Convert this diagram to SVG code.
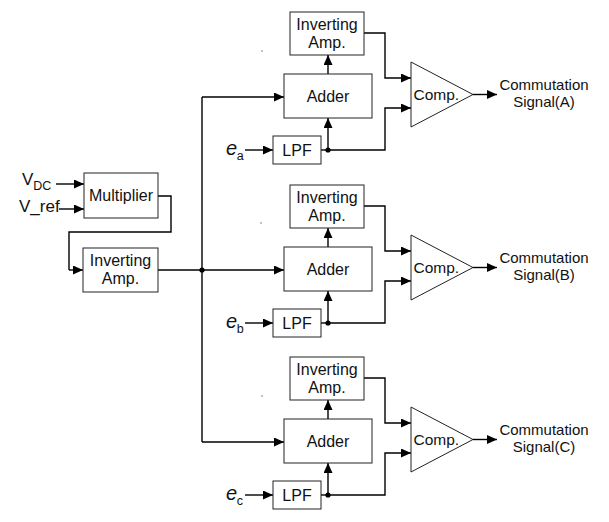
<svg xmlns="http://www.w3.org/2000/svg" width="609" height="522" viewBox="0 0 609 522">
<style>
.box{fill:#fff;stroke:#222;stroke-width:1}
.t{font-family:"Liberation Sans",Arial,sans-serif;font-size:16px;fill:#111;text-anchor:middle}
.o{font-family:"Liberation Sans",Arial,sans-serif;font-size:15px;fill:#111;text-anchor:middle}
.ts{font-family:"Liberation Sans",Arial,sans-serif;fill:#111}
.w{fill:none;stroke:#000;stroke-width:1.4}
.wa{fill:none;stroke:#000;stroke-width:1.4;marker-end:url(#ah)}
.dot{fill:#000}
.spk{fill:#777}
</style>
<defs>
<marker id="ah" markerUnits="userSpaceOnUse" markerWidth="10" markerHeight="9" refX="10" refY="4.5" orient="auto">
<path d="M0,0 L10,4.5 L0,9 z" fill="#000"/>
</marker>
</defs>
<rect width="609" height="522" fill="#fff"/>

<g id="connectors">
<path class="wa" d="M56,184 H84"/>
<path class="wa" d="M59,209 H84"/>
<path class="w" d="M158,196 H171 V232 H69 V270"/>
<path class="wa" d="M69,270 H83"/>
<path class="wa" d="M158,270 H284"/>
<path class="w" d="M202,97 V442"/>
<path class="wa" d="M202,97 H284"/>
<path class="wa" d="M202,442 H284"/>
<circle class="dot" cx="202" cy="270" r="2.6"/>

<path class="wa" d="M328,74 V55"/>
<path class="wa" d="M245,150 H273"/>
<path class="w" d="M321,150 H328"/>
<path class="wa" d="M328,150 V118"/>
<path class="wa" d="M328,150 H385 V108 H411"/>
<path class="wa" d="M364,33 H385 V78 H411"/>
<path class="wa" d="M473,94.5 H497"/>
<circle class="dot" cx="328" cy="150" r="2.6"/>

<path class="wa" d="M328,247 V228"/>
<path class="wa" d="M245,323 H273"/>
<path class="w" d="M321,323 H328"/>
<path class="wa" d="M328,323 V291"/>
<path class="wa" d="M328,323 H385 V281 H411"/>
<path class="wa" d="M364,206 H385 V251 H411"/>
<path class="wa" d="M473,267.5 H497"/>
<circle class="dot" cx="328" cy="323" r="2.6"/>

<path class="wa" d="M328,419 V400"/>
<path class="wa" d="M245,495 H273"/>
<path class="w" d="M321,495 H328"/>
<path class="wa" d="M328,495 V463"/>
<path class="wa" d="M328,495 H385 V453 H411"/>
<path class="wa" d="M364,378 H385 V423 H411"/>
<path class="wa" d="M473,439.5 H497"/>
<circle class="dot" cx="328" cy="495" r="2.6"/>
</g>

<g id="specks">
<circle class="spk" cx="262" cy="51" r="0.8"/>
<circle class="spk" cx="261" cy="223" r="0.8"/>
<circle class="spk" cx="262" cy="396" r="0.8"/>
</g>

<g id="vdc-label">
<text class="ts" x="22" y="185" font-size="17">V<tspan font-size="12.5" dy="5">DC</tspan></text>
</g>
<g id="vref-label">
<text class="ts" x="19" y="212" font-size="17">V_ref</text>
</g>
<g id="multiplier">
<rect class="box" x="84" y="173" width="74" height="45"/>
<text class="t" x="121" y="201">Multiplier</text>
</g>
<g id="inv-amp-main">
<rect class="box" x="83" y="248" width="75" height="44"/>
<text class="t" x="120.5" y="266">Inverting</text>
<text class="t" x="120.5" y="284">Amp.</text>
</g>

<g id="inv-amp-a">
<rect class="box" x="290" y="12" width="74" height="43"/>
<text class="t" x="327" y="30">Inverting</text>
<text class="t" x="327" y="48">Amp.</text>
</g>
<g id="adder-a">
<rect class="box" x="284" y="74" width="88" height="44"/>
<text class="t" x="328" y="101.5">Adder</text>
</g>
<g id="lpf-a">
<rect class="box" x="273" y="136" width="48" height="28"/>
<text class="t" x="297" y="156">LPF</text>
</g>
<g id="ea-label">
<text class="ts" x="226" y="155" font-size="20" font-style="italic">e<tspan font-size="12.5" font-style="normal" dx="-0.5" dy="5">a</tspan></text>
</g>
<g id="comp-a">
<polygon class="box" points="411,62 411,127 473,94.5"/>
<text class="ts" x="413.5" y="100" font-size="15.5">Comp.</text>
</g>
<g id="out-a">
<text class="o" x="544" y="90">Commutation</text>
<text class="o" x="544" y="107">Signal(A)</text>
</g>

<g id="inv-amp-b">
<rect class="box" x="290" y="185" width="74" height="43"/>
<text class="t" x="327" y="203">Inverting</text>
<text class="t" x="327" y="221">Amp.</text>
</g>
<g id="adder-b">
<rect class="box" x="284" y="247" width="88" height="44"/>
<text class="t" x="328" y="274.5">Adder</text>
</g>
<g id="lpf-b">
<rect class="box" x="273" y="309" width="48" height="28"/>
<text class="t" x="297" y="329">LPF</text>
</g>
<g id="eb-label">
<text class="ts" x="226" y="328" font-size="20" font-style="italic">e<tspan font-size="12.5" font-style="normal" dx="-0.5" dy="5">b</tspan></text>
</g>
<g id="comp-b">
<polygon class="box" points="411,235 411,300 473,267.5"/>
<text class="ts" x="413.5" y="273" font-size="15.5">Comp.</text>
</g>
<g id="out-b">
<text class="o" x="544" y="263">Commutation</text>
<text class="o" x="544" y="280">Signal(B)</text>
</g>

<g id="inv-amp-c">
<rect class="box" x="290" y="357" width="74" height="43"/>
<text class="t" x="327" y="375">Inverting</text>
<text class="t" x="327" y="393">Amp.</text>
</g>
<g id="adder-c">
<rect class="box" x="284" y="419" width="88" height="44"/>
<text class="t" x="328" y="446.5">Adder</text>
</g>
<g id="lpf-c">
<rect class="box" x="273" y="481" width="48" height="28"/>
<text class="t" x="297" y="501">LPF</text>
</g>
<g id="ec-label">
<text class="ts" x="226" y="500" font-size="20" font-style="italic">e<tspan font-size="12.5" font-style="normal" dx="-0.5" dy="5">c</tspan></text>
</g>
<g id="comp-c">
<polygon class="box" points="411,407 411,472 473,439.5"/>
<text class="ts" x="413.5" y="445" font-size="15.5">Comp.</text>
</g>
<g id="out-c">
<text class="o" x="544" y="435">Commutation</text>
<text class="o" x="544" y="452">Signal(C)</text>
</g>
</svg>
